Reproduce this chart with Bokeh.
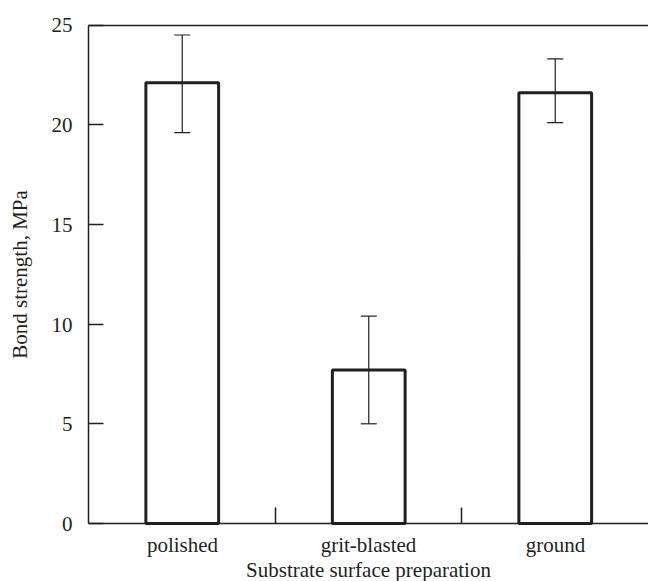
from bokeh.plotting import figure
from bokeh.models import ColumnDataSource, FixedTicker, Range1d, Whisker, TeeHead, LinearAxis
from bokeh.core.properties import value
from bokeh.embed import file_html
from bokeh.resources import INLINE

categories = ["polished", "grit-blasted", "ground"]
strength = [22.1, 7.7, 21.6]
err_low = [19.6, 5.0, 20.1]
err_high = [24.5, 10.4, 23.3]
y_ticks = [0, 5, 10, 15, 20, 25]

xpos = list(range(len(categories)))
src = ColumnDataSource(dict(x=xpos, top=strength, lo=err_low, hi=err_high))

FONT = "Liberation Serif"
INK = "#231f20"
FS = "21px"

X0, X1 = -0.5, 2.5
Y0, Y1 = 0, 25

p = figure(width=648, height=581, output_backend="svg", toolbar_location=None,
           x_range=Range1d(-0.9745, 2.5), y_range=Range1d(-2.909, 26.229),
           min_border=0)
p.outline_line_color = None
p.background_fill_color = "white"
p.border_fill_color = "white"
p.grid.visible = False

p.vbar(x="x", top="top", bottom=0, width=0.39, source=src, fill_color="white",
       line_color=INK, line_width=3)

w = Whisker(base="x", lower="lo", upper="hi", source=src, line_color=INK, line_width=1.2,
            level="overlay",
            upper_head=TeeHead(size=16, line_color=INK, line_width=1.2),
            lower_head=TeeHead(size=16, line_color=INK, line_width=1.2))
p.add_layout(w)


def label_axis(text, loc, bounds, standoff, **kw):
    return LinearAxis(fixed_location=loc, bounds=bounds, ticker=FixedTicker(ticks=[]),
                      major_tick_in=0, major_tick_out=0, minor_tick_in=0, minor_tick_out=0,
                      major_label_text_font_size="0px", major_label_standoff=0,
                      axis_line_color=None, axis_label=text, axis_label_standoff=standoff,
                      axis_label_text_font=FONT, axis_label_text_font_size=FS,
                      axis_label_text_font_style="normal", axis_label_text_color=INK, **kw)


# category labels, centred under each bar
for i, c in zip(xpos, categories):
    p.add_layout(label_axis(c, Y0, (i - 0.3, i + 0.3), 9), "below")

# y tick labels
for t in y_ticks:
    p.add_layout(label_axis(str(t), X0, (t - 1, t + 1), 16,
                            axis_label_orientation="horizontal"), "left")

xa = p.xaxis[0]
xa.fixed_location = Y0
xa.bounds = (X0, 2.64)
xa.ticker = FixedTicker(ticks=xpos, minor_ticks=[0.5, 1.5])
xa.major_label_overrides = {i: "" for i in xpos}
xa.major_label_text_font_size = "0px"
xa.major_tick_in = 0
xa.major_tick_out = 0
xa.minor_tick_in = 16
xa.minor_tick_out = 0
xa.minor_tick_line_color = INK
xa.minor_tick_line_width = 1.5
xa.axis_line_color = INK
xa.axis_line_width = 1.5
xa.major_label_standoff = 0
xa.axis_label = "Substrate surface preparation"
xa.axis_label_text_font = FONT
xa.axis_label_text_font_size = FS
xa.axis_label_text_font_style = "normal"
xa.axis_label_text_color = INK
xa.axis_label_standoff = 34

ya = p.yaxis[0]
ya.fixed_location = X0
ya.bounds = (Y0, Y1)
ya.ticker = FixedTicker(ticks=y_ticks, minor_ticks=[])
ya.major_label_overrides = {t: "" for t in y_ticks}
ya.major_label_text_font_size = "0px"
ya.major_tick_in = 15
ya.major_tick_out = 0
ya.major_tick_line_color = INK
ya.major_tick_line_width = 1.5
ya.axis_line_color = INK
ya.axis_line_width = 1.5
ya.major_label_standoff = 0
ya.axis_label = "Bond strength, MPa"
ya.axis_label_text_font = FONT
ya.axis_label_text_font_size = FS
ya.axis_label_text_font_style = "normal"
ya.axis_label_text_color = INK
ya.axis_label_standoff = 57

top_axis = LinearAxis(fixed_location=Y1, bounds=(X0, 2.64), ticker=FixedTicker(ticks=[]),
                      major_tick_in=0, major_tick_out=0, minor_tick_in=0, minor_tick_out=0,
                      major_label_text_font_size="0px", axis_line_color=INK, axis_line_width=1.5)
p.add_layout(top_axis, "above")

open("out.html", "w").write(file_html(p, INLINE))
